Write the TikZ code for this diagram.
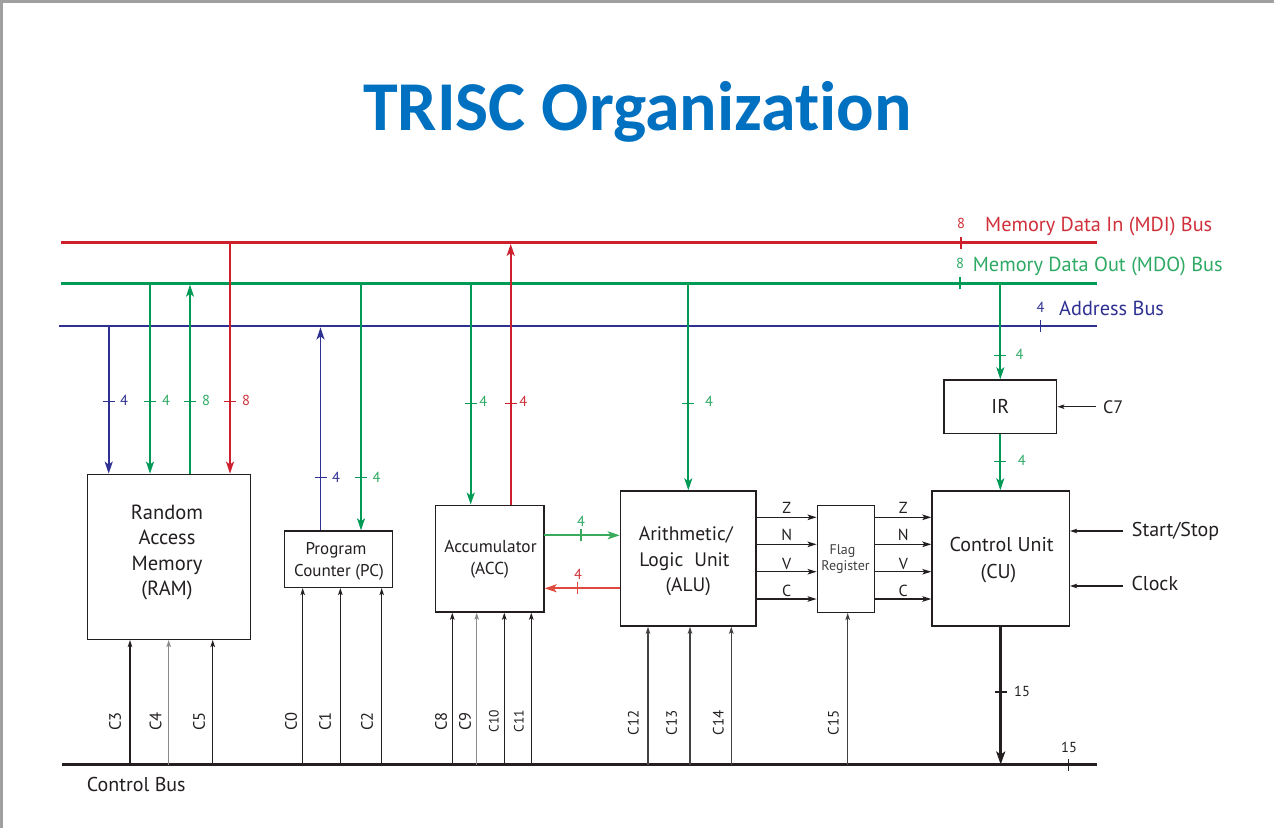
\documentclass[tikz,border=0pt]{standalone}
\usepackage{fontspec}
\setmainfont{PT Sans}
\newfontfamily\titlefont[Ligatures=CommonOff]{Carlito}
\usetikzlibrary{arrows.meta,calc}
\definecolor{mdi}{HTML}{CD202C}
\definecolor{mdo}{HTML}{009A57}
\definecolor{adr}{HTML}{2E3192}
\definecolor{mdit}{HTML}{D0303A}
\definecolor{mdot}{HTML}{2EAA64}
\definecolor{accg}{HTML}{3AAA5C}
\definecolor{accr}{HTML}{DE4A3E}
\definecolor{ink}{HTML}{231F20}
\definecolor{ttl}{HTML}{0070C0}
\definecolor{frame}{HTML}{A0A0A0}
\definecolor{ctlgray}{HTML}{8A8A8A}
\newcommand{\fs}[1]{\fontsize{#1}{#1}\selectfont}
\newcommand{\vtick}[2]{\draw[#2,line width=1.4pt] ([xshift=-6pt]#1) -- ([xshift=6pt]#1);}
\newcommand{\htick}[2]{\draw[#2,line width=1.4pt] ([yshift=-6pt]#1) -- ([yshift=6pt]#1);}
\begin{document}
\begin{tikzpicture}[x=1pt,y=-1pt,
  box/.style={draw=ink,line width=1.4pt,inner sep=0pt},
  bus/.style={line width=2.8pt},
  conn/.style={line width=1.8pt},
  big/.style={-{Stealth[length=12pt,width=8pt,inset=3pt]}},
  ctl/.style={draw=ink,line width=1.2pt,-{Stealth[length=7pt,width=4.5pt,inset=1.5pt]}},
  flagarrow/.style={draw=ink,line width=1.3pt,-{Stealth[length=9pt,width=5.5pt,inset=2pt]}},
  txt/.style={inner sep=0pt,anchor=base,text=ink},
  num/.style={inner sep=0pt,anchor=base,font=\fs{14.5}},
  clab/.style={inner sep=0pt,rotate=90,anchor=center,text=ink,font=\fs{16.5}},
  clabs/.style={inner sep=0pt,rotate=90,anchor=center,text=ink,font=\fs{13.5}},
  clabm/.style={inner sep=0pt,rotate=90,anchor=center,text=ink,font=\fs{15}},
]
\useasboundingbox (0,0) rectangle (1274,828);
\fill[white] (0,0) rectangle (1274,828);
% screenshot frame
\fill[frame] (0,0) rectangle (1274,3);
\fill[frame] (0,0) rectangle (3,828);

% title
\node[inner sep=0pt,anchor=base,text=ttl,font=\titlefont\bfseries\fs{70}] (title) at (637.5,130) {TRISC Organization};

% buses
\coordinate (mdiW) at (61,242.5);  \coordinate (mdiE) at (1097,242.5);
\coordinate (mdoW) at (61,283.3);  \coordinate (mdoE) at (1097,283.3);
\coordinate (adrW) at (59,326);    \coordinate (adrE) at (1097,326);
\coordinate (cbW) at (62,764.5);   \coordinate (cbE) at (1097,764.5);
\draw[bus,mdi] (mdiW) -- (mdiE);
\draw[bus,mdo] (mdoW) -- (mdoE);
\draw[bus,adr] (adrW) -- (adrE);
\draw[line width=3pt,ink] (cbW) -- (cbE);

% bus ticks and labels
\coordinate (mdiT) at (961,242.5);
\coordinate (mdoT) at (960,283.3);
\coordinate (adrT) at (1040.7,326);
\coordinate (cbT) at (1068.3,764.5);
\htick{mdiT}{mdi}
\htick{mdoT}{mdo}
\htick{adrT}{adr}
\htick{cbT}{ink}
\node[num,text=mdit] (mdin) at (961,228.3) {8};
\node[num,text=mdot] (mdon) at (960,268) {8};
\node[num,text=adr] (adrn) at (1040.5,312.7) {4};
\node[num,text=ink] (cbn) at (1069,752) {15};
\node[inner sep=0pt,anchor=base west,text=mdit,font=\fs{20.3}] (mdil) at (985,231.7) {Memory Data In (MDI) Bus};
\node[inner sep=0pt,anchor=base west,text=mdot,font=\fs{20.3}] (mdol) at (972.7,271.7) {Memory Data Out (MDO) Bus};
\node[inner sep=0pt,anchor=base west,text=adr,font=\fs{20.3}] (adrl) at (1059,315) {Address Bus};
\node[inner sep=0pt,anchor=base west,text=ink,font=\fs{20}] (cbl) at (86.7,791.7) {Control Bus};

% boxes
\node[box,minimum width=162.6pt,minimum height=165pt] (ram) at (169,556.8) {};
\node[box,minimum width=108pt,minimum height=56.3pt] (pc) at (338.3,559.2) {};
\node[box,minimum width=108.7pt,minimum height=106.7pt] (acc) at (489.6,558.6) {};
\node[box,minimum width=135.7pt,minimum height=135pt] (alu) at (688.2,558.5) {};
\node[box,minimum width=57pt,minimum height=106.6pt] (flag) at (845.8,559) {};
\node[box,minimum width=137.3pt,minimum height=135pt] (cu) at (1000.7,558.5) {};
\node[box,minimum width=112.7pt,minimum height=53.7pt] (ir) at (1000.3,406.8) {};

% box texts
\node[txt,font=\fs{20.5}] (ram1) at (167,519) {Random};
\node[txt,font=\fs{20.5}] (ram2) at (167,544.5) {Access};
\node[txt,font=\fs{20.5}] (ram3) at (167,570) {Memory};
\node[txt,font=\fs{20.5}] (ram4) at (167,595.5) {(RAM)};
\node[txt,font=\fs{17}] (pc1) at (336,554) {Program};
\node[txt,font=\fs{17}] (pc2) at (339,576) {Counter (PC)};
\node[txt,font=\fs{17.3}] (acc1) at (490.5,552.7) {Accumulator};
\node[txt,font=\fs{17.3}] (acc2) at (489.7,574) {(ACC)};
\node[txt,font=\fs{19.5}] (alu1) at (685.8,540) {Arithmetic/};
\node[txt,font=\fs{19.5}] (alu2) at (684.5,566) {Logic\hspace{0.3em} Unit};
\node[txt,font=\fs{19.5}] (alu3) at (688.3,591) {(ALU)};
\node[txt,font=\fs{14},text=ink!85] (flag1) at (842.5,554) {Flag};
\node[txt,font=\fs{14},text=ink!85] (flag2) at (845.5,570.7) {Register};
\node[txt,font=\fs{20}] (cu1) at (1001.7,551) {Control Unit};
\node[txt,font=\fs{20}] (cu2) at (998.5,578) {(CU)};
\node[txt,font=\fs{20}] (ir1) at (1000.3,413.3) {IR};

% RAM connectors
\coordinate (r1) at (108.7,326);
\coordinate (r2) at (150,283.3);
\coordinate (r3) at (190,283.3);
\coordinate (r4) at (230,242.5);
\draw[conn,adr,big] (r1) -- (r1 |- ram.north);
\draw[conn,mdo,big] (r2) -- (r2 |- ram.north);
\draw[conn,mdo,big] (r3 |- ram.north) -- ([yshift=-1.4pt]r3);
\draw[conn,mdi,big] (r4) -- (r4 |- ram.north);
\coordinate (r1t) at (108.7,401.7); \vtick{r1t}{adr}
\coordinate (r2t) at (150,401.7);   \vtick{r2t}{mdo}
\coordinate (r3t) at (190,401.7);   \vtick{r3t}{mdo}
\coordinate (r4t) at (230,401.7);   \vtick{r4t}{mdi}
\node[num,text=adr] (r1n) at (124,405.5) {4};
\node[num,text=mdot] (r2n) at (166,405.5) {4};
\node[num,text=mdot] (r3n) at (206,405.5) {8};
\node[num,text=mdit] (r4n) at (246,405.5) {8};

% PC connectors
\coordinate (p1) at (320.5,326);
\coordinate (p2) at (361,283.3);
\draw[conn,adr,big] (p1 |- pc.north) -- ([yshift=-1.4pt]p1);
\draw[conn,mdo,big] (p2) -- (p2 |- pc.north);
\coordinate (p1t) at (320.5,477.3); \vtick{p1t}{adr}
\coordinate (p2t) at (361,477.3);   \vtick{p2t}{mdo}
\node[num,text=adr] (p1n) at (336,482) {4};
\node[num,text=mdot] (p2n) at (376.5,482) {4};

% ACC connectors
\coordinate (a1) at (470.7,283.3);
\coordinate (a2) at (510.7,242.5);
\draw[conn,mdo,big] (a1) -- (a1 |- acc.north);
\draw[conn,mdi,big] (a2 |- acc.north) -- ([yshift=-1.4pt]a2);
\coordinate (a1t) at (470.7,403.3); \vtick{a1t}{mdo}
\coordinate (a2t) at (510.7,403.3); \vtick{a2t}{mdi}
\node[num,text=mdot] (a1n) at (483.3,406.5) {4};
\node[num,text=mdit] (a2n) at (523.3,406.5) {4};

% ACC <-> ALU
\coordinate (ag) at (544,535.3);
\coordinate (ar) at (620.3,588.3);
\draw[line width=1.7pt,accg,big] (ag) -- (ag -| alu.west);
\draw[line width=1.7pt,accr,big] (ar) -- (ar -| acc.east);
\coordinate (agt) at (581,535.3);  \htick{agt}{accg}
\coordinate (art) at (577.7,588.3); \htick{art}{accr}
\node[num,text=mdot] (agn) at (581,526.5) {4};
\node[num,text=mdit] (arn) at (578,579) {4};

% ALU connector
\coordinate (l1) at (688.3,283.3);
\draw[conn,mdo,big] (l1) -- (l1 |- alu.north);
\coordinate (l1t) at (688.3,403.3); \vtick{l1t}{mdo}
\node[num,text=mdot] (l1n) at (709,406.5) {4};

% IR connectors
\coordinate (i1) at (1000.3,283.3);
\draw[conn,mdo,big] (i1) -- (i1 |- ir.north);
\draw[conn,mdo,big] (ir.south) -- (ir.south |- cu.north);
\coordinate (i1t) at (1000.3,355.3); \vtick{i1t}{mdo}
\coordinate (i2t) at (1000.3,461.7); \vtick{i2t}{mdo}
\node[num,text=mdot] (i1n) at (1019.5,359.5) {4};
\node[num,text=mdot] (i2n) at (1021.7,465.5) {4};

% C7
\coordinate (c7s) at (1096,406.7);
\draw[ctl] (c7s) -- (c7s -| ir.east);
\node[inner sep=0pt,anchor=base west,text=ink,font=\fs{18}] (c7l) at (1103,413) {C7};

% Start/Stop and Clock
\coordinate (sss) at (1123,531);
\coordinate (cks) at (1123,586);
\draw[ctl] (sss) -- (sss -| cu.east);
\draw[ctl] (cks) -- (cks -| cu.east);
\node[inner sep=0pt,anchor=base west,text=ink,font=\fs{20}] (ssl) at (1131.7,536) {Start/Stop};
\node[inner sep=0pt,anchor=base west,text=ink,font=\fs{20}] (ckl) at (1131.3,590.7) {Clock};

% Flags
\foreach \yy/\nm in {517.3/z,544.3/n,571.7/v,599/c}{
  \coordinate (f\nm) at (756,\yy);
  \draw[flagarrow] (f\nm) -- (f\nm -| flag.west);
  \draw[flagarrow] (f\nm -| flag.east) -- (f\nm -| cu.west);
}
\node[txt,font=\fs{16}] (zl1) at (786.7,513.3) {Z};
\node[txt,font=\fs{16}] (nl1) at (786.7,540) {N};
\node[txt,font=\fs{16}] (vl1) at (786.7,569) {V};
\node[txt,font=\fs{16}] (cl1) at (786.7,596.7) {C};
\node[txt,font=\fs{16}] (zl2) at (903.3,513.3) {Z};
\node[txt,font=\fs{16}] (nl2) at (903.3,540) {N};
\node[txt,font=\fs{16}] (vl2) at (903.3,569) {V};
\node[txt,font=\fs{16}] (cl2) at (903.3,596.7) {C};

% CU to control bus
\draw[line width=2.8pt,ink,-{Stealth[length=13pt,width=9pt,inset=3pt]}] (cu.south) -- (cu.south |- cbE);
\coordinate (cut) at (1000.7,692); \vtick{cut}{ink}
\node[num,text=ink] (cun) at (1022,696) {15};

% control lines
\foreach \xx/\nm/\tgt/\col in {130/c3/ram/ink,168.7/c4/ram/ctlgray,212.7/c5/ram/ink,
  302.7/c0/pc/ink,340.3/c1/pc/ink,381.7/c2/pc/ink,
  452.3/c8/acc/ink,476.7/c9/acc/ctlgray,504.3/c10/acc/ink,531.3/c11/acc/ink,
  648/c12/alu/ink!85,690/c13/alu/ink!85,731.3/c14/alu/ink!85,847.7/c15/flag/ink!85}{
  \coordinate (\nm) at (\xx,764.5);
  \draw[ctl,draw=\col] (\nm) -- (\nm |- \tgt.south);
}
\node[clab] (c3l) at (115,721.5) {C3};
\node[clab] (c4l) at (155.7,721.5) {C4};
\node[clab] (c5l) at (199,721.5) {C5};
\node[clab] (c0l) at (291,721.5) {C0};
\node[clab] (c1l) at (325,721.5) {C1};
\node[clab] (c2l) at (367,721.5) {C2};
\node[clab] (c8l) at (441,721.5) {C8};
\node[clab] (c9l) at (465,721.5) {C9};
\node[clabs] (c10l) at (494,721) {C10};
\node[clabs] (c11l) at (519,721) {C11};
\node[clabm] (c12l) at (633.3,723) {C12};
\node[clabm] (c13l) at (671.7,723) {C13};
\node[clabm] (c14l) at (718.3,723) {C14};
\node[clabm] (c15l) at (833.3,723) {C15};
\end{tikzpicture}
\end{document}
